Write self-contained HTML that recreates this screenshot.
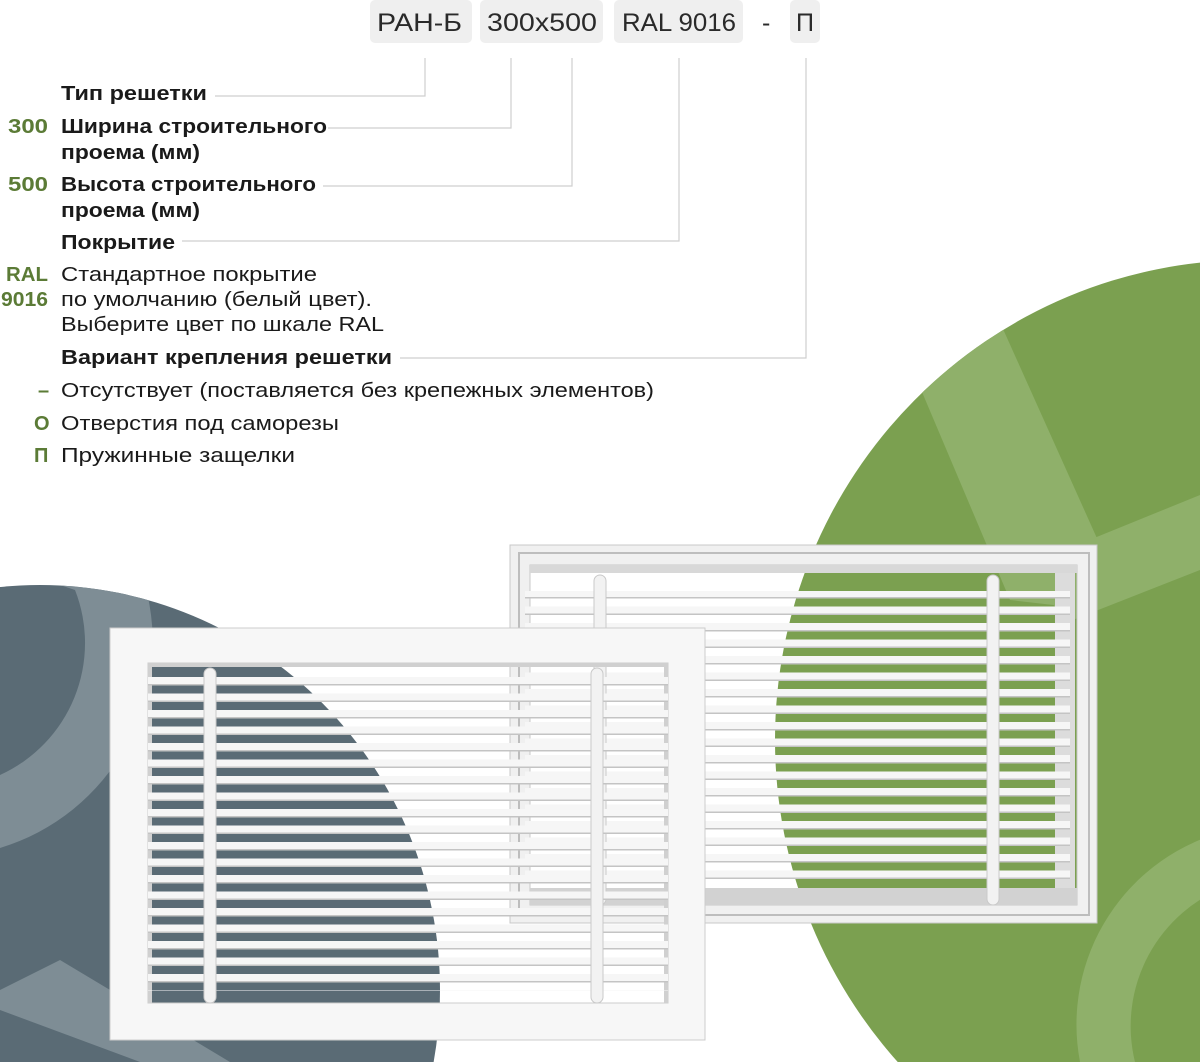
<!DOCTYPE html>
<html><head><meta charset="utf-8"><style>
html,body{margin:0;padding:0;background:#fff;width:1200px;height:1062px;overflow:hidden;}
svg{display:block}
.b{font-family:"Liberation Sans","Noto Sans CJK SC",sans-serif;font-weight:700;font-size:20px;fill:#1a1a1a}
.r{font-family:"Liberation Sans","Noto Sans CJK SC",sans-serif;font-size:20px;fill:#1a1a1a}
.g{font-family:"Liberation Sans","Noto Sans CJK SC",sans-serif;font-weight:700;font-size:20px;fill:#5b7b36}
.c{font-family:"Liberation Sans","Noto Sans CJK SC",sans-serif;font-size:25px;fill:#2a2a2a}
</style></head><body>
<svg width="1200" height="1062" viewBox="0 0 1200 1062" xmlns="http://www.w3.org/2000/svg">
<defs>
<clipPath id="gc"><ellipse cx="1250" cy="740" rx="475" ry="480"/></clipPath>
<clipPath id="dc"><ellipse cx="40" cy="990" rx="400" ry="405"/></clipPath>
<pattern id="sl" patternUnits="userSpaceOnUse" x="0" y="677" width="10" height="16.5">
<rect x="0" y="0" width="10" height="7" fill="#f6f6f6"/><rect x="0" y="7" width="10" height="1.5" fill="#c4c4c4"/>
</pattern>
<pattern id="sr" patternUnits="userSpaceOnUse" x="0" y="590" width="10" height="16.5">
<rect x="0" y="0" width="10" height="7" fill="#f6f6f6"/><rect x="0" y="7" width="10" height="1.5" fill="#c4c4c4"/>
</pattern>
</defs>

<ellipse cx="1250" cy="740" rx="475" ry="480" fill="#7ba050"/>
<g clip-path="url(#gc)" fill="#8fb06a">
<polygon points="900,340 990,300 1100,545 1097,610 1010,600"/>
<polygon points="1040,560 1200,495 1200,570 1060,625"/>
<path d="M1080,1062 A200,200 0 0 1 1230,830 L1230,885 A150,150 0 0 0 1135,1062 Z"/>
</g>
<ellipse cx="40" cy="990" rx="400" ry="405" fill="#5a6b75"/>
<g clip-path="url(#dc)" fill="#7e8d95">
<path d="M60,585 L145,585 A215,215 0 0 1 0,848 L0,775 A145,145 0 0 0 75,590 Z"/>
<polygon points="0,990 60,960 230,1062 140,1062 0,1010"/>
</g>

<rect x="370" y="0" width="102" height="43" rx="5" fill="#efefef"/>
<rect x="480" y="0" width="123" height="43" rx="5" fill="#efefef"/>
<rect x="614" y="0" width="129" height="43" rx="5" fill="#efefef"/>
<rect x="790" y="0" width="30" height="43" rx="5" fill="#efefef"/>
<text class="c" x="377" y="31" textLength="85" lengthAdjust="spacingAndGlyphs">РАН-Б</text>
<text class="c" x="487" y="31" textLength="110" lengthAdjust="spacingAndGlyphs">300x500</text>
<text class="c" x="622" y="31" textLength="114" lengthAdjust="spacingAndGlyphs">RAL 9016</text>
<text class="c" x="762" y="31">-</text>
<text class="c" x="796" y="31">П</text>

<g fill="none" stroke="#cfcfcf" stroke-width="1.2">
<polyline points="425,58 425,96 215,96"/>
<polyline points="511,58 511,128 328,128"/>
<polyline points="572,58 572,186 323,186"/>
<polyline points="679,58 679,241 182,241"/>
<polyline points="806,58 806,358 400,358"/>
</g>

<text class="b" x="61" y="100" textLength="146" lengthAdjust="spacingAndGlyphs">Тип решетки</text>
<text class="g" x="8" y="133" textLength="40" lengthAdjust="spacingAndGlyphs">300</text>
<text class="b" x="61" y="133" textLength="266" lengthAdjust="spacingAndGlyphs">Ширина строительного</text>
<text class="b" x="61" y="159" textLength="139" lengthAdjust="spacingAndGlyphs">проема (мм)</text>
<text class="g" x="8" y="191" textLength="40" lengthAdjust="spacingAndGlyphs">500</text>
<text class="b" x="61" y="191" textLength="255" lengthAdjust="spacingAndGlyphs">Высота строительного</text>
<text class="b" x="61" y="217" textLength="139" lengthAdjust="spacingAndGlyphs">проема (мм)</text>
<text class="b" x="61" y="249" textLength="114" lengthAdjust="spacingAndGlyphs">Покрытие</text>
<text class="g" x="6" y="281" textLength="42" lengthAdjust="spacingAndGlyphs">RAL</text>
<text class="r" x="61" y="281" textLength="256" lengthAdjust="spacingAndGlyphs">Стандартное покрытие</text>
<text class="g" x="1" y="306" textLength="47" lengthAdjust="spacingAndGlyphs">9016</text>
<text class="r" x="61" y="306" textLength="311" lengthAdjust="spacingAndGlyphs">по умолчанию (белый цвет).</text>
<text class="r" x="61" y="331" textLength="323" lengthAdjust="spacingAndGlyphs">Выберите цвет по шкале RAL</text>
<text class="b" x="61" y="364" textLength="331" lengthAdjust="spacingAndGlyphs">Вариант крепления решетки</text>
<text class="g" x="38" y="397">–</text>
<text class="r" x="61" y="397" textLength="593" lengthAdjust="spacingAndGlyphs">Отсутствует (поставляется без крепежных элементов)</text>
<text class="g" x="34" y="430">О</text>
<text class="r" x="61" y="430" textLength="278" lengthAdjust="spacingAndGlyphs">Отверстия под саморезы</text>
<text class="g" x="34" y="462">П</text>
<text class="r" x="61" y="462" textLength="234" lengthAdjust="spacingAndGlyphs">Пружинные защелки</text>

<!-- right grille -->
<path fill-rule="evenodd" fill="#f0f0f0" stroke="#c8c8c8" d="M510,545 H1097 V923 H510 Z M530,565 H1077 V905 H530 Z"/>
<path fill="none" stroke="#bdbdbd" stroke-width="2" d="M519,553 H1089 V915 H519 Z"/>
<rect x="1055" y="567" width="20" height="336" fill="#dcdcdc"/>
<rect x="530" y="888" width="547" height="17" fill="#d2d2d2"/>
<rect x="530" y="565" width="547" height="8" fill="#d8d8d8"/>
<rect x="525" y="591" width="545" height="290" fill="url(#sr)"/>
<rect x="594" y="575" width="12" height="330" rx="6" fill="#f2f2f2" stroke="#c9c9c9"/>
<rect x="987" y="575" width="12" height="330" rx="6" fill="#f2f2f2" stroke="#c9c9c9"/>

<!-- left grille -->
<path fill-rule="evenodd" fill="#f7f7f7" stroke="#cccccc" d="M110,628 H705 V1040 H110 Z M148,663 H668 V1003 H148 Z"/>
<rect x="148" y="663" width="520" height="4" fill="#d0d0d0"/>
<rect x="148" y="663" width="4" height="340" fill="#d0d0d0"/>
<rect x="664" y="663" width="4" height="340" fill="#d0d0d0"/>
<rect x="148" y="677" width="520" height="314" fill="url(#sl)"/>
<rect x="204" y="668" width="12" height="335" rx="6" fill="#f2f2f2" stroke="#c9c9c9"/>
<rect x="591" y="668" width="12" height="335" rx="6" fill="#f2f2f2" stroke="#c9c9c9"/>
</svg>
</body></html>
